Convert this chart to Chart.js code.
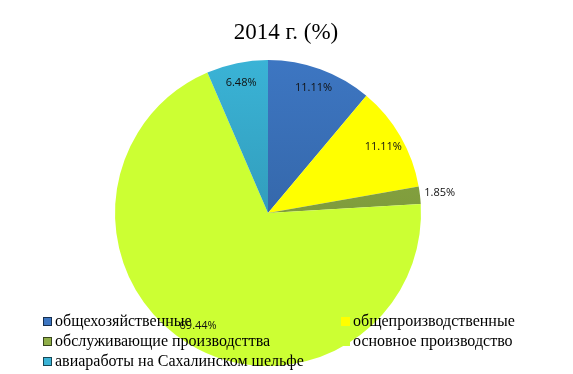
<!DOCTYPE html>
<html>
<head>
<meta charset="utf-8">
<script src="https://cdn.jsdelivr.net/npm/chart.js@4/dist/chart.umd.min.js"></script>
<style>
  body { margin: 0; background: #fff; }
  #wrap { width: 573px; height: 374px; position: relative; }
</style>
</head>
<body>
<div id="wrap"><canvas id="myChart" width="573" height="374"></canvas></div>
<script>
var chartTitle = '2014 г. (%)';
var categories = ['общехозяйственные', 'общепроизводственные', 'обслуживающие производсттва', 'основное производство', 'авиаработы на Сахалинском шельфе'];
var shares = [11.11, 11.11, 1.85, 69.44, 6.48];
var topColors = ['#3d76c2', '#ffff00', '#8fae48', '#ccff33', '#3ab3d6'];
var bottomColors = ['#2d5a94', '#ffff00', '#6f8a30', '#ccff33', '#2a88a3'];

function sliceFill(context) {
  var chart = context.chart;
  var area = chart.chartArea;
  var i = context.dataIndex;
  if (!area) return topColors[i];
  var g = chart.ctx.createLinearGradient(0, area.top, 0, area.bottom);
  g.addColorStop(0, topColors[i]);
  g.addColorStop(1, bottomColors[i]);
  return g;
}

// title, slice labels and legend drawn on top of the pie (legend overlaps it)
var overlay = {
  id: 'overlay',
  afterDraw: function(chart) {
    var ctx = chart.ctx;
    ctx.save();
    ctx.fillStyle = '#000';
    ctx.font = '23px "Liberation Serif", "DejaVu Serif", serif';
    ctx.textAlign = 'center';
    ctx.textBaseline = 'middle';
    ctx.fillText(chartTitle, 286, 33);

    var meta = chart.getDatasetMeta(0);
    ctx.font = '11px "Open Sans", "Liberation Sans", sans-serif';
    meta.data.forEach(function(arc, i) {
      var mid = (arc.startAngle + arc.endAngle) / 2;
      var r = shares[i] < 5 ? arc.outerRadius * 1.13 : arc.outerRadius * 0.87;
      var x = arc.x + Math.cos(mid) * r;
      var y = arc.y + Math.sin(mid) * r;
      ctx.fillStyle = '#111';
      ctx.fillText(shares[i].toFixed(2) + '%', x, y);
    });

    ctx.font = '16px "Liberation Serif", "DejaVu Serif", serif';
    ctx.textAlign = 'left';
    var cols = [43, 341];
    var rows = [322, 342, 362];
    categories.forEach(function(name, i) {
      var x = cols[i % 2];
      var y = rows[Math.floor(i / 2)];
      ctx.fillStyle = topColors[i];
      ctx.fillRect(x, y - 5, 9, 9);
      if (i !== 1 && i !== 3) {
        ctx.strokeStyle = 'rgba(0,0,0,0.6)';
        ctx.lineWidth = 1;
        ctx.strokeRect(x + 0.5, y - 4.5, 8, 8);
      }
      ctx.fillStyle = '#000';
      ctx.fillText(name, x + 12, y);
    });
    ctx.restore();
  }
};

var ctx = document.getElementById('myChart');
var myChart = new Chart(ctx, {
  type: 'pie',
  data: {
    labels: categories,
    datasets: [{
      data: shares,
      backgroundColor: sliceFill,
      borderWidth: 0
    }]
  },
  options: {
    responsive: false,
    animation: false,
    layout: {
      padding: { top: 60, bottom: 8, left: 0, right: 37 }
    },
    plugins: {
      legend: { display: false },
      title: { display: false },
      tooltip: { enabled: false }
    }
  },
  plugins: [overlay]
});
</script>
</body>
</html>
